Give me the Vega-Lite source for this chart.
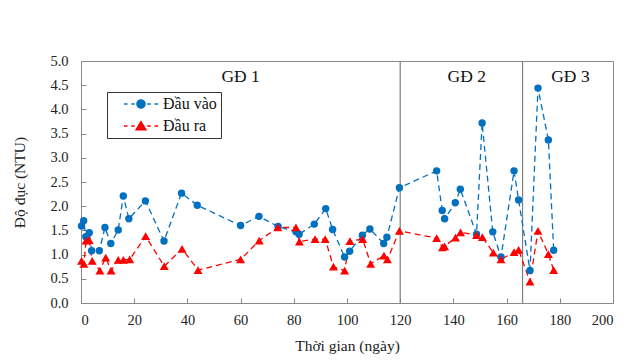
{
  "$schema": "https://vega.github.io/schema/vega-lite/v6.json",
  "width": 532,
  "height": 242,
  "autosize": {"type": "none"},
  "padding": {"left": 81, "top": 61, "right": 27, "bottom": 60},
  "background": "white",
  "config": {
    "view": {"stroke": "#898989", "strokeWidth": 1},
    "font": "Liberation Serif, Times New Roman, serif",
    "axis": {
      "domain": false,
      "grid": false,
      "tickColor": "#898989",
      "labelFont": "Liberation Serif, Times New Roman, serif",
      "labelFontSize": 14.5,
      "labelColor": "#222222",
      "titleFont": "Liberation Serif, Times New Roman, serif",
      "titleFontSize": 15.5,
      "titleFontWeight": "normal",
      "titleColor": "#222222"
    },
    "legend": {"labelFont": "Liberation Serif, Times New Roman, serif"},
    "text": {"font": "Liberation Serif, Times New Roman, serif"}
  },
  "datasets": {
    "turb": [
      {"t": 0.2, "v": 1.59, "s": "Đầu vào"},
      {"t": 1.0, "v": 1.70, "s": "Đầu vào"},
      {"t": 1.8, "v": 1.37, "s": "Đầu vào"},
      {"t": 3.1, "v": 1.45, "s": "Đầu vào"},
      {"t": 4.0, "v": 1.08, "s": "Đầu vào"},
      {"t": 6.9, "v": 1.08, "s": "Đầu vào"},
      {"t": 9.0, "v": 1.56, "s": "Đầu vào"},
      {"t": 11.2, "v": 1.23, "s": "Đầu vào"},
      {"t": 14.0, "v": 1.51, "s": "Đầu vào"},
      {"t": 15.9, "v": 2.21, "s": "Đầu vào"},
      {"t": 18.0, "v": 1.74, "s": "Đầu vào"},
      {"t": 24.2, "v": 2.11, "s": "Đầu vào"},
      {"t": 31.2, "v": 1.28, "s": "Đầu vào"},
      {"t": 37.8, "v": 2.27, "s": "Đầu vào"},
      {"t": 43.7, "v": 2.02, "s": "Đầu vào"},
      {"t": 60.0, "v": 1.60, "s": "Đầu vào"},
      {"t": 66.9, "v": 1.79, "s": "Đầu vào"},
      {"t": 74.1, "v": 1.58, "s": "Đầu vào"},
      {"t": 80.8, "v": 1.47, "s": "Đầu vào"},
      {"t": 82.0, "v": 1.42, "s": "Đầu vào"},
      {"t": 87.7, "v": 1.63, "s": "Đầu vào"},
      {"t": 92.0, "v": 1.95, "s": "Đầu vào"},
      {"t": 94.6, "v": 1.52, "s": "Đầu vào"},
      {"t": 99.1, "v": 0.95, "s": "Đầu vào"},
      {"t": 101.0, "v": 1.07, "s": "Đầu vào"},
      {"t": 105.8, "v": 1.40, "s": "Đầu vào"},
      {"t": 108.6, "v": 1.53, "s": "Đầu vào"},
      {"t": 113.8, "v": 1.23, "s": "Đầu vào"},
      {"t": 115.0, "v": 1.36, "s": "Đầu vào"},
      {"t": 119.7, "v": 2.38, "s": "Đầu vào"},
      {"t": 133.7, "v": 2.73, "s": "Đầu vào"},
      {"t": 135.8, "v": 1.91, "s": "Đầu vào"},
      {"t": 136.7, "v": 1.74, "s": "Đầu vào"},
      {"t": 140.7, "v": 2.07, "s": "Đầu vào"},
      {"t": 142.6, "v": 2.35, "s": "Đầu vào"},
      {"t": 148.7, "v": 1.42, "s": "Đầu vào"},
      {"t": 150.8, "v": 3.72, "s": "Đầu vào"},
      {"t": 154.8, "v": 1.47, "s": "Đầu vào"},
      {"t": 157.9, "v": 0.95, "s": "Đầu vào"},
      {"t": 162.8, "v": 2.73, "s": "Đầu vào"},
      {"t": 164.5, "v": 2.13, "s": "Đầu vào"},
      {"t": 168.8, "v": 0.67, "s": "Đầu vào"},
      {"t": 171.8, "v": 4.44, "s": "Đầu vào"},
      {"t": 175.7, "v": 3.37, "s": "Đầu vào"},
      {"t": 177.7, "v": 1.09, "s": "Đầu vào"},
      {"t": 0.2, "v": 0.87, "s": "Đầu ra"},
      {"t": 1.1, "v": 0.81, "s": "Đầu ra"},
      {"t": 1.9, "v": 1.29, "s": "Đầu ra"},
      {"t": 3.1, "v": 1.30, "s": "Đầu ra"},
      {"t": 4.2, "v": 0.87, "s": "Đầu ra"},
      {"t": 7.1, "v": 0.67, "s": "Đầu ra"},
      {"t": 9.3, "v": 0.94, "s": "Đầu ra"},
      {"t": 11.3, "v": 0.67, "s": "Đầu ra"},
      {"t": 14.0, "v": 0.89, "s": "Đầu ra"},
      {"t": 15.9, "v": 0.89, "s": "Đầu ra"},
      {"t": 18.3, "v": 0.90, "s": "Đầu ra"},
      {"t": 24.3, "v": 1.38, "s": "Đầu ra"},
      {"t": 31.3, "v": 0.76, "s": "Đầu ra"},
      {"t": 38.0, "v": 1.12, "s": "Đầu ra"},
      {"t": 44.0, "v": 0.68, "s": "Đầu ra"},
      {"t": 60.0, "v": 0.90, "s": "Đầu ra"},
      {"t": 67.0, "v": 1.29, "s": "Đầu ra"},
      {"t": 74.0, "v": 1.56, "s": "Đầu ra"},
      {"t": 80.8, "v": 1.56, "s": "Đầu ra"},
      {"t": 82.1, "v": 1.27, "s": "Đầu ra"},
      {"t": 88.0, "v": 1.32, "s": "Đầu ra"},
      {"t": 91.8, "v": 1.32, "s": "Đầu ra"},
      {"t": 94.9, "v": 0.75, "s": "Đầu ra"},
      {"t": 99.1, "v": 0.67, "s": "Đầu ra"},
      {"t": 101.1, "v": 1.28, "s": "Đầu ra"},
      {"t": 105.9, "v": 1.32, "s": "Đầu ra"},
      {"t": 108.9, "v": 0.81, "s": "Đầu ra"},
      {"t": 113.9, "v": 0.98, "s": "Đầu ra"},
      {"t": 115.2, "v": 0.90, "s": "Đầu ra"},
      {"t": 119.7, "v": 1.49, "s": "Đầu ra"},
      {"t": 133.7, "v": 1.34, "s": "Đầu ra"},
      {"t": 135.9, "v": 1.15, "s": "Đầu ra"},
      {"t": 136.7, "v": 1.17, "s": "Đầu ra"},
      {"t": 140.8, "v": 1.35, "s": "Đầu ra"},
      {"t": 142.7, "v": 1.46, "s": "Đầu ra"},
      {"t": 148.7, "v": 1.40, "s": "Đầu ra"},
      {"t": 150.9, "v": 1.36, "s": "Đầu ra"},
      {"t": 155.0, "v": 1.04, "s": "Đầu ra"},
      {"t": 157.9, "v": 0.90, "s": "Đầu ra"},
      {"t": 162.8, "v": 1.05, "s": "Đầu ra"},
      {"t": 164.5, "v": 1.10, "s": "Đầu ra"},
      {"t": 168.8, "v": 0.44, "s": "Đầu ra"},
      {"t": 171.8, "v": 1.49, "s": "Đầu ra"},
      {"t": 175.7, "v": 1.01, "s": "Đầu ra"},
      {"t": 177.7, "v": 0.68, "s": "Đầu ra"}
    ],
    "stages": [{"t": 120}, {"t": 166}],
    "labels": [
      {"t": 60, "v": 4.67, "name": "GĐ 1"},
      {"t": 145, "v": 4.67, "name": "GĐ 2"},
      {"t": 184, "v": 4.67, "name": "GĐ 3"}
    ]
  },
  "encoding": {
    "x": {
      "field": "t",
      "type": "quantitative",
      "scale": {"domain": [0, 200], "nice": false},
      "axis": {"tickCount": 10, "title": "Thời gian (ngày)", "tickSize": -5, "labelPadding": 15, "titlePadding": 12, "labelOverlap": false}
    }
  },
  "layer": [
    {
      "data": {"name": "stages"},
      "mark": {"type": "rule", "color": "#7f7f7f", "strokeWidth": 1.2},
      "encoding": {}
    },
    {
      "data": {"name": "labels"},
      "mark": {"type": "text", "fontWeight": "normal", "fontSize": 17.5, "color": "#111111", "baseline": "middle", "align": "center"},
      "encoding": {
        "y": {
          "field": "v",
          "type": "quantitative",
          "scale": {"domain": [0, 5], "nice": false},
          "axis": {"tickCount": 10, "format": ".1f", "title": "Độ đục (NTU)", "tickSize": -5, "labelPadding": 18, "titlePadding": 22, "labelOverlap": false}
        },
        "text": {"field": "name"}
      }
    },
    {
      "data": {"name": "turb"},
      "mark": {"type": "line", "strokeWidth": 1.3, "strokeDash": [6, 4]},
      "encoding": {
        "y": {"field": "v", "type": "quantitative"},
        "color": {
          "field": "s",
          "type": "nominal",
          "scale": {"domain": ["Đầu vào", "Đầu ra"], "range": ["#0070C0", "#FF0000"]},
          "legend": {
            "title": null,
            "orient": "none",
            "legendX": 26,
            "legendY": 31,
            "padding": 4,
            "strokeColor": "#333333",
            "fillColor": "white",
            "symbolSize": 196,
            "symbolOffset": 22,
            "labelOffset": 14,
            "rowPadding": 6,
            "labelFontSize": 16,
            "labelColor": "#111111",
            "encode": {
              "symbols": {
                "update": {
                  "shape": [
                    {"test": "datum.value === 'Đầu vào'", "value": "M-2.43,0L-1.93,0M-1.4,0L-0.9,0M0.9,0L1.4,0M1.93,0L2.43,0M0.57,0A0.57,0.57,0,1,1,-0.57,0A0.57,0.57,0,1,1,0.57,0Z"},
                    {"value": "M-2.43,0L-1.93,0M-1.4,0L-0.9,0M0.9,0L1.4,0M1.93,0L2.43,0M0,-0.62L0.7,0.55L-0.7,0.55Z"}
                  ],
                  "fill": [
                    {"test": "datum.value === 'Đầu vào'", "value": "#0070C0"},
                    {"value": "#FF0000"}
                  ],
                  "stroke": [
                    {"test": "datum.value === 'Đầu vào'", "value": "#0070C0"},
                    {"value": "#FF0000"}
                  ],
                  "size": {"value": 196},
                  "strokeWidth": {"value": 1.5},
                  "strokeDash": {"value": [1, 0]},
                  "opacity": {"value": 1}
                }
              }
            }
          }
        }
      }
    },
    {
      "data": {"name": "turb"},
      "transform": [{"filter": "datum.s === 'Đầu vào'"}],
      "mark": {"type": "point", "filled": true, "opacity": 1, "size": 55, "shape": "circle"},
      "encoding": {
        "y": {"field": "v", "type": "quantitative"},
        "color": {"field": "s", "type": "nominal"}
      }
    },
    {
      "data": {"name": "turb"},
      "transform": [{"filter": "datum.s === 'Đầu ra'"}],
      "mark": {"type": "point", "filled": true, "opacity": 1, "size": 80, "shape": "triangle-up"},
      "encoding": {
        "y": {"field": "v", "type": "quantitative"},
        "color": {"field": "s", "type": "nominal"}
      }
    }
  ]
}
